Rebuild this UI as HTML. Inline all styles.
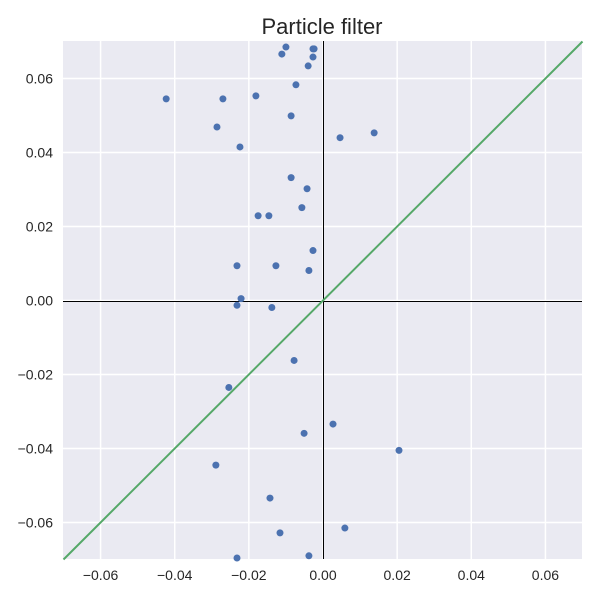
<!DOCTYPE html>
<html><head><meta charset="utf-8"><style>
html,body{margin:0;padding:0;background:#fff;}
svg text{font-family:"Liberation Sans",sans-serif;}
</style></head><body>
<svg id="chart" width="600" height="600" xmlns="http://www.w3.org/2000/svg">
<text x="322" y="34" font-size="22" text-anchor="middle" fill="#262626">Particle filter</text>
<rect x="63" y="41" width="519" height="518" fill="#EAEAF2"/>
<g id="grid"></g><g id="ticks"></g><g id="marks"></g>
</svg>
<script>
const xTicks=[-0.06,-0.04,-0.02,0.00,0.02,0.04,0.06];
const yTicks=[-0.06,-0.04,-0.02,0.00,0.02,0.04,0.06];
const xTickLabels=["\u22120.06","\u22120.04","\u22120.02","0.00","0.02","0.04","0.06"];
const yTickLabels=["\u22120.06","\u22120.04","\u22120.02","0.00","0.02","0.04","0.06"];
const particleX=[-0.0100,-0.0027,-0.0024,-0.0111,-0.0027,-0.0040,-0.0073,-0.0423,-0.0270,-0.0181,-0.0086,-0.0286,0.0046,0.0138,-0.0224,-0.0086,-0.0043,-0.0057,-0.0175,-0.0146,-0.0027,-0.0232,-0.0127,-0.0038,-0.0221,-0.0232,-0.0138,-0.0078,-0.0254,0.0027,-0.0051,0.0205,-0.0289,-0.0143,0.0059,-0.0116,-0.0232,-0.0038];
const particleY=[0.0685,0.0680,0.0680,0.0666,0.0658,0.0634,0.0583,0.0545,0.0545,0.0553,0.0499,0.0469,0.0440,0.0453,0.0415,0.0332,0.0302,0.0251,0.0229,0.0229,0.0135,0.0094,0.0094,0.0081,0.0005,-0.0013,-0.0019,-0.0162,-0.0235,-0.0334,-0.0359,-0.0405,-0.0445,-0.0534,-0.0615,-0.0628,-0.0696,-0.0690];
const lineX=[-0.07,0.07];
const lineY=[-0.07,0.07];
const xMin=-0.07,xMax=0.07,yMin=-0.07,yMax=0.07;
const L=63,R=582,T=41,B=559;
const sx=v=>L+(v-xMin)/(xMax-xMin)*(R-L)+0.5;
const sy=v=>B-(v-yMin)/(yMax-yMin)*(B-T)+0.5;
const NS="http://www.w3.org/2000/svg";
function mk(tag,attrs,parent){const e=document.createElementNS(NS,tag);for(const k in attrs)e.setAttribute(k,attrs[k]);document.getElementById(parent).appendChild(e);return e;}
xTicks.forEach((t,i)=>{
  const g=mk('line',{x1:sx(t),x2:sx(t),y1:T,y2:B,stroke:'#fff','stroke-width':1.5},'grid');
  
  
  const tx=mk('text',{x:sx(t),y:580,'font-size':14,'text-anchor':'middle',fill:'#262626'},'ticks');
  tx.textContent=xTickLabels[i];
  
  
});
yTicks.forEach((t,i)=>{
  const g=mk('line',{x1:L,x2:R,y1:sy(t),y2:sy(t),stroke:'#fff','stroke-width':1.5},'grid');
  
  
  const tx=mk('text',{x:53,y:sy(t)+5,'font-size':14,'text-anchor':'end',fill:'#262626'},'ticks');
  tx.textContent=yTickLabels[i];
  
  
});
const ax=mk('line',{x1:L,x2:R,y1:Math.round(sy(0))+0.5,y2:Math.round(sy(0))+0.5,stroke:'#000','stroke-width':1},'grid');


const ay=mk('line',{x1:Math.floor(sx(0))+0.5,x2:Math.floor(sx(0))+0.5,y1:T,y2:B,stroke:'#000','stroke-width':1},'grid');


const ln=mk('line',{x1:sx(lineX[0]),y1:sy(lineY[0]),x2:sx(lineX[1]),y2:sy(lineY[1]),stroke:'#55A868','stroke-width':2},'marks');


particleX.forEach((x,i)=>{
  const c=mk('circle',{cx:sx(x),cy:sy(particleY[i]),r:3.5,fill:'#4C72B0'},'marks');
  
  
});
</script>
</body></html>
